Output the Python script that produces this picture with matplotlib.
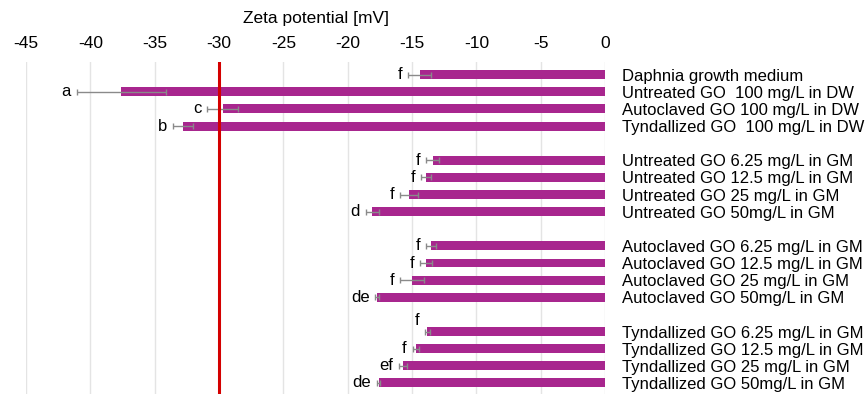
"""zeta potential of GO suspensions, horizontal bars"""

import numpy as np
import matplotlib.pyplot as plt

plt.rcParams['font.family'] = ['Liberation Sans', 'DejaVu Sans']
plt.rcParams['axes.unicode_minus'] = False

#%% data
labels = ['Daphnia growth medium',
          'Untreated GO  100 mg/L in DW',
          'Autoclaved GO 100 mg/L in DW',
          'Tyndallized GO  100 mg/L in DW',
          'Untreated GO 6.25 mg/L in GM',
          'Untreated GO 12.5 mg/L in GM',
          'Untreated GO 25 mg/L in GM',
          'Untreated GO 50mg/L in GM',
          'Autoclaved GO 6.25 mg/L in GM',
          'Autoclaved GO 12.5 mg/L in GM',
          'Autoclaved GO 25 mg/L in GM',
          'Autoclaved GO 50mg/L in GM',
          'Tyndallized GO 6.25 mg/L in GM',
          'Tyndallized GO 12.5 mg/L in GM',
          'Tyndallized GO 25 mg/L in GM',
          'Tyndallized GO 50mg/L in GM']
zeta = [-14.4, -37.6, -29.7, -32.8,
        -13.4, -13.9, -15.2, -18.1,
        -13.5, -13.9, -15.0, -17.7,
        -13.8, -14.7, -15.7, -17.6]
zeta_err = [0.9, 3.45, 1.2, 0.75,
            0.5, 0.4, 0.7, 0.5,
            0.4, 0.45, 0.9, 0.15,
            0.2, 0.25, 0.3, 0.15]
letters = ['f', 'a', 'c', 'b',
           'f', 'f', 'f', 'd',
           'f', 'f', 'f', 'de',
           'f', 'f', 'ef', 'de']
groups = [4, 4, 4, 4]
threshold = -30

#%% row positions, one empty row between groups
ypos = []
row = 0
for n in groups:
    ypos += list(range(row, row + n))
    row += n + 1
ypos = np.array(ypos)
zeta = np.array(zeta)
zeta_err = np.array(zeta_err)

fig = plt.figure(figsize=(8.68, 3.94), dpi=100)
ax = fig.add_axes([0.030, 0.0, 0.667, 0.843])

ax.barh(ypos, zeta, height=0.52, color='#A8268E', zorder=2)
ax.errorbar(zeta, ypos, xerr=zeta_err, fmt='none', ecolor='#8a8a8a',
            elinewidth=1, capsize=2.5, capthick=1, zorder=3)
ax.axvline(threshold, color='#d40000', lw=2.2, zorder=4)

# significance letters left of the whiskers
for i, (y, v, e, s) in enumerate(zip(ypos, zeta, zeta_err, letters)):
    dy = -0.65 if i == 12 else 0
    ax.text(v - e - 0.45, y + dy, s, ha='right', va='center', fontsize=12, zorder=5)

ax.set_xlim(-45, 0)
ax.set_ylim(18.65, -0.75)
ax.set_xticks(np.arange(-45, 1, 5))
ax.xaxis.tick_top()
ax.xaxis.set_label_position('top')
ax.set_xlabel('Zeta potential [mV]', fontsize=12.5, labelpad=9)
ax.tick_params(axis='x', length=0, labelsize=12.5, pad=8)
ax.grid(axis='x', color='#e4e4e4', lw=1, zorder=0)

ax.yaxis.tick_right()
ax.set_yticks(ypos)
ax.set_yticklabels(labels)
ax.tick_params(axis='y', length=0, labelsize=12, pad=12)

for sp in ax.spines.values():
    sp.set_visible(False)

plt.savefig('out.png', dpi=100)
